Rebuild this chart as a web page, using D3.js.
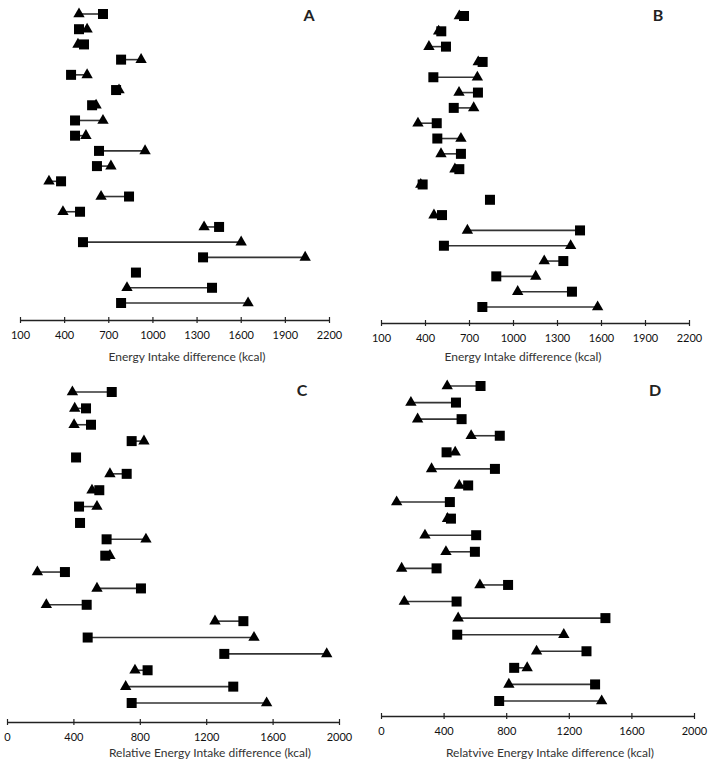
<!DOCTYPE html>
<html>
<head>
<meta charset="utf-8">
<script src="https://cdnjs.cloudflare.com/ajax/libs/d3/7.8.5/d3.min.js"></script>
<style>
  html, body { margin: 0; padding: 0; background: #fff; }
  svg { display: block; }
</style>
</head>
<body>
<div id="chart"></div>
<script>
// rows are listed top to bottom (20 participants per panel); null = no triangle shown
const rows = d3.range(1, 21);

// panel A - energy intake difference (kcal)
const aSquare   = [664, 501, 535, 787, 447, 753, 590, 474, 474, 637, 623, 379, 841, 508, 1453, 528, 1344, 888, 1405, 787];
const aTriangle = [501, 556, 494, 923, 556, 773, 617, 664, 548, 950, 718, 297, 651, 392, 1351, 1603, 2038, null, 827, 1650];

// panel B - energy intake difference (kcal)
const bSquare   = [666, 511, 543, 793, 457, 761, 596, 480, 484, 645, 634, 384, 843, 516, 1457, 529, 1343, 886, 1402, 791];
const bTriangle = [634, 493, 427, 763, 757, 632, 732, 352, 645, 509, 604, 371, null, 461, 689, 1393, 1213, 1155, 1032, 1577];

// panel C - relative energy intake difference (kcal)
const cSquare   = [631, 476, 506, 751, 416, 721, 556, 434, 440, 600, 592, 349, 807, 480, 1424, 486, 1309, 847, 1363, 751];
const cTriangle = [394, 408, 404, 825, null, 620, 512, 542, null, 837, 620, 183, 542, 237, 1253, 1488, 1926, 771, 715, 1564];

// panel D - relative energy intake difference (kcal)
const dSquare   = [636, 479, 515, 759, 419, 728, 557, 440, 447, 608, 600, 355, 812, 483, 1434, 487, 1313, 851, 1368, 755];
const dTriangle = [423, 191, 234, 576, 474, 323, 500, 100, 425, 281, 415, 132, 632, 149, 493, 1168, 994, 934, 817, 1410];

const ticksAB = [100, 400, 700, 1000, 1300, 1600, 1900, 2200];
const ticksCD = [0, 400, 800, 1200, 1600, 2000];

const PANELS = [
  { letter: 'A', square: aSquare, triangle: aTriangle, ticks: ticksAB,
    x: [20, 329], y: [14, 303], axisY: 320, letterPos: [309, 21],
    title: 'Energy Intake difference (kcal)', titlePos: [187, 361] },
  { letter: 'B', square: bSquare, triangle: bTriangle, ticks: ticksAB,
    x: [381, 689], y: [16, 307], axisY: 323, letterPos: [658, 21],
    title: 'Energy Intake difference (kcal)', titlePos: [523, 361] },
  { letter: 'C', square: cSquare, triangle: cTriangle, ticks: ticksCD,
    x: [7, 339], y: [392, 703], axisY: 722, letterPos: [302, 396],
    title: 'Relative Energy Intake difference (kcal)', titlePos: [210, 757] },
  { letter: 'D', square: dSquare, triangle: dTriangle, ticks: ticksCD,
    x: [381, 694], y: [386, 701], axisY: 716, letterPos: [655, 396],
    title: 'Relatvive Energy Intake difference (kcal)', titlePos: [550, 757] }
];

const FONT = 'Lato, "Open Sans", sans-serif';

const svg = d3.select('#chart').append('svg')
  .attr('width', 720)
  .attr('height', 768);

const triangle = d3.symbol().type(d3.symbolTriangle).size(56);

PANELS.forEach((p) => {
  const xScale = d3.scaleLinear()
    .domain(d3.extent(p.ticks))
    .range(p.x);
  const yScale = d3.scalePoint()
    .domain(rows)
    .range(p.y);

  const data = rows.map((r, i) => ({ row: r, sq: p.square[i], tri: p.triangle[i] }));
  const paired = data.filter((d) => d.tri != null);
  const g = svg.append('g').attr('class', 'panel panel-' + p.letter);

  // axis
  const axis = d3.axisBottom(xScale)
    .tickValues(p.ticks)
    .tickFormat((d) => d)
    .tickSizeInner(3)
    .tickSizeOuter(0)
    .tickPadding(8);
  const $axis = g.append('g')
    .attr('transform', `translate(0, ${p.axisY})`)
    .call(axis);
  $axis.select('.domain').attr('stroke', '#222').attr('stroke-width', 1.4);
  $axis.selectAll('.tick line')
    .attr('y1', -3)
    .attr('stroke', '#222')
    .attr('stroke-width', 1.2);
  $axis.selectAll('.tick text')
    .attr('fill', '#111')
    .style('font-family', FONT)
    .style('font-size', '11px');

  g.append('text')
    .attr('x', p.titlePos[0])
    .attr('y', p.titlePos[1])
    .attr('text-anchor', 'middle')
    .attr('fill', '#333')
    .style('font-family', FONT)
    .style('font-size', '12px')
    .text(p.title);

  g.append('text')
    .attr('x', p.letterPos[0])
    .attr('y', p.letterPos[1])
    .attr('text-anchor', 'middle')
    .attr('fill', '#222')
    .style('font-family', FONT)
    .style('font-weight', 'bold')
    .style('font-size', '16px')
    .text(p.letter);

  // connectors, then triangles, then squares on top
  g.selectAll('.link')
    .data(paired)
    .enter().append('line')
    .attr('class', 'link')
    .attr('x1', (d) => xScale(d.sq))
    .attr('x2', (d) => xScale(d.tri))
    .attr('y1', (d) => yScale(d.row))
    .attr('y2', (d) => yScale(d.row))
    .attr('stroke', '#333')
    .attr('stroke-width', 1.6);

  g.selectAll('.tri')
    .data(paired)
    .enter().append('path')
    .attr('class', 'tri')
    .attr('d', triangle)
    .attr('transform', (d) => `translate(${xScale(d.tri)}, ${yScale(d.row)})`)
    .attr('fill', '#000');

  g.selectAll('.sq')
    .data(data)
    .enter().append('rect')
    .attr('class', 'sq')
    .attr('x', (d) => xScale(d.sq) - 5)
    .attr('y', (d) => yScale(d.row) - 5)
    .attr('width', 10)
    .attr('height', 10)
    .attr('fill', '#000');
});
</script>
</body>
</html>
